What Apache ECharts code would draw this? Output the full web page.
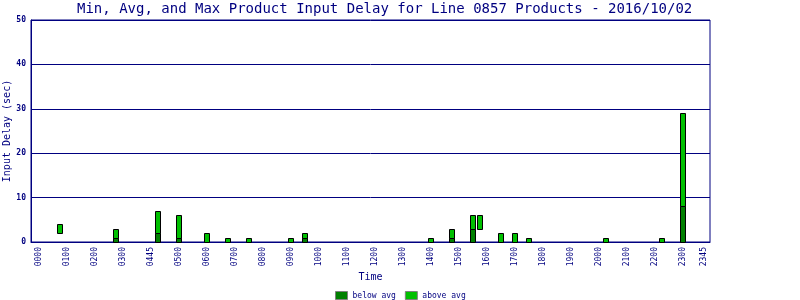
<!DOCTYPE html>
<html>
<head>
<meta charset="utf-8">
<script src="https://cdn.jsdelivr.net/npm/echarts@6/dist/echarts.min.js"></script>
<style>
html,body{margin:0;padding:0;background:#fff;}
#chart{width:800px;height:300px;}
</style>
</head>
<body>
<div id="chart"></div>
<script>
// ---- data ----
var times    = ['0045','0245','0415','0500','0600','0645','0730','0900','0930','1400','1445','1530','1545','1630','1700','1730','2015','2215','2300'];
var minDelay = [2, 0, 0, 0, 0, 0, 0, 0, 0, 0, 0, 0, 3, 0, 0, 0, 0, 0, 0];
var avgDelay = [2, 1, 2, 1, 0, 0, 0, 0, 1, 0, 1, 3, 3, 0, 0, 0, 0, 0, 8];
var maxDelay = [4, 3, 7, 6, 2, 1, 1, 1, 2, 1, 3, 6, 6, 2, 2, 1, 1, 1, 29];
var tickLabels = ['0000','0100','0200','0300','0445','0500','0600','0700','0800','0900','1000','1100','1200','1300','1400','1500','1600','1700','1800','1900','2000','2100','2200','2300','2345'];
var tickHours  = [0,1,2,3,4,5,6,7,8,9,10,11,12,13,14,15,16,17,18,19,20,21,22,23,23.75];

var NAVY = '#000080';
var FONT = 'DejaVu Sans Mono';
var DARK = '#008000';
var LIGHT = '#00c000';

function toHours(t){ return parseInt(t.slice(0,2),10) + parseInt(t.slice(2),10)/60; }

var belowData = [], aboveData = [];
for (var i = 0; i < times.length; i++) {
  var h = toHours(times[i]);
  belowData.push([h, minDelay[i], avgDelay[i]]);
  aboveData.push([h, avgDelay[i], maxDelay[i]]);
}

function makeRender(fill) {
  return function (params, api) {
    var x = api.value(0), lo = api.value(1), hi = api.value(2);
    if (!(hi > lo)) return null;
    var pTop = api.coord([x, hi]);
    var pBot = api.coord([x, lo]);
    var cx = Math.round(pTop[0]);
    var yT = Math.round(pTop[1]) + 0.5;
    var yB = Math.round(pBot[1]) + 0.5;
    return {
      type: 'rect',
      shape: {x: cx - 2.5, y: yT, width: 5, height: yB - yT},
      style: {fill: fill, stroke: '#000000', lineWidth: 1}
    };
  };
}

var chart = echarts.init(document.getElementById('chart'), null, {renderer: 'canvas'});
chart.setOption({
  animation: false,
  backgroundColor: '#ffffff',
  title: {
    text: 'Min, Avg, and Max Product Input Delay for Line 0857 Products - 2016/10/02',
    left: 77, top: 2, padding: 0,
    textStyle: {color: NAVY, fontFamily: FONT, fontSize: 14, fontWeight: 'normal'}
  },
  legend: {
    left: 335, top: 291,
    itemWidth: 12, itemHeight: 8, itemGap: 9,
    padding: 0,
    textStyle: {color: NAVY, fontFamily: FONT, fontSize: 8},
    data: [
      {name: 'below avg', icon: 'rect', itemStyle: {color: DARK, borderColor: '#808080', borderWidth: 1}},
      {name: 'above avg', icon: 'rect', itemStyle: {color: LIGHT, borderColor: '#808080', borderWidth: 1}}
    ]
  },
  grid: {
    left: 31, right: 90, top: 20, bottom: 58,
    outerBoundsMode: 'none', containLabel: false,
    show: true, borderColor: NAVY, borderWidth: 1, backgroundColor: '#ffffff'
  },
  xAxis: {
    type: 'value',
    min: -0.2857, max: 23.964,
    name: 'Time', nameLocation: 'middle', nameGap: 30, nameMoveOverlap: false,
    nameTextStyle: {color: NAVY, fontFamily: FONT, fontSize: 10},
    axisLine: {show: true, onZero: false, lineStyle: {color: NAVY, width: 1}},
    axisTick: {show: false},
    splitLine: {show: false},
    axisLabel: {
      customValues: tickHours,
      rotate: 90, margin: 5,
      color: NAVY, fontFamily: FONT, fontSize: 8,
      formatter: function (v) {
        var k = tickHours.indexOf(v);
        return k >= 0 ? tickLabels[k] : '';
      }
    }
  },
  yAxis: {
    type: 'value',
    min: 0, max: 50, interval: 10,
    name: 'Input Delay (sec)', nameLocation: 'middle', nameGap: 19, nameMoveOverlap: false,
    nameTextStyle: {color: NAVY, fontFamily: FONT, fontSize: 10},
    axisLine: {show: true, onZero: false, lineStyle: {color: NAVY, width: 1}},
    axisTick: {show: false},
    splitLine: {show: true, lineStyle: {color: NAVY, width: 1}},
    axisLabel: {color: NAVY, fontFamily: FONT, fontSize: 8, fontWeight: 'bold', margin: 5}
  },
  series: [
    {
      name: 'below avg', type: 'custom',
      itemStyle: {color: DARK},
      encode: {x: 0, y: [1, 2]},
      renderItem: makeRender(DARK),
      data: belowData
    },
    {
      name: 'above avg', type: 'custom',
      itemStyle: {color: LIGHT},
      encode: {x: 0, y: [1, 2]},
      renderItem: makeRender(LIGHT),
      data: aboveData
    }
  ]
});
</script>
</body>
</html>
